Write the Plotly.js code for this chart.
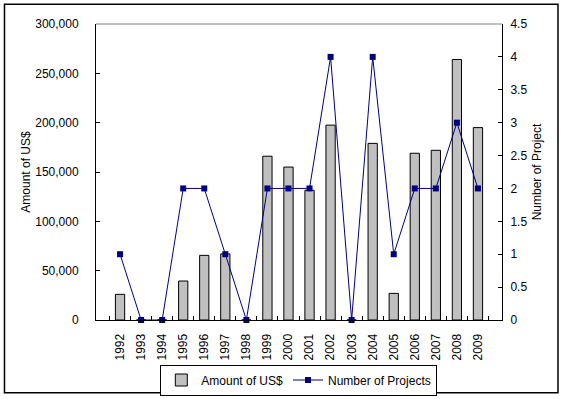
<!DOCTYPE html>
<html>
<head>
<meta charset="utf-8">
<script src="https://cdn.plot.ly/plotly-3.0.1.min.js"></script>
<style>
html,body{margin:0;padding:0;background:#fff;}
#chart{width:567px;height:399px;}
</style>
</head>
<body>
<div id="chart"></div>
<script>
var years = ['1992','1993','1994','1995','1996','1997','1998','1999','2000','2001','2002','2003','2004','2005','2006','2007','2008','2009'];
var amountUSD = [26000,0,0,39500,65500,67000,0,166000,155000,131500,197500,0,179000,27000,169000,172000,264000,195000];
var numProjects = [1,0,0,2,2,1,0,2,2,2,4,0,4,1,2,2,3,2];

var fontFam = '"Liberation Sans", Arial, sans-serif';

var traces = [
  {
    type: 'bar',
    name: 'Amount of US$',
    x: years,
    y: amountUSD,
    marker: {color: '#C0C0C0', line: {color: '#000000', width: 1}},
    yaxis: 'y'
  },
  {
    type: 'scatter',
    mode: 'lines+markers',
    name: 'Number of Projects',
    x: years,
    y: numProjects,
    yaxis: 'y2',
    line: {color: '#000080', width: 1},
    marker: {color: '#000080', size: 6, symbol: 'square'},
    cliponaxis: false
  }
];

var layout = {
  width: 567,
  height: 399,
  margin: {l: 96, r: 65, t: 24, b: 79, pad: 0},
  paper_bgcolor: '#ffffff',
  plot_bgcolor: '#ffffff',
  font: {family: fontFam, size: 12, color: '#000000'},
  bargap: 0.56,
  showlegend: true,
  legend: {
    orientation: 'h',
    xref: 'container', yref: 'container',
    x: 0.527, xanchor: 'center',
    y: 0.0476, yanchor: 'middle',
    bordercolor: '#000000', borderwidth: 1,
    font: {family: fontFam, size: 12, color: '#000000'},
    tracegroupgap: 0
  },
  xaxis: {
    type: 'category',
    tickangle: -90,
    showline: true, linecolor: '#000000', linewidth: 1,
    ticks: 'inside', tickson: 'boundaries', ticklen: 4, tickcolor: '#000000',
    ticklabelstandoff: 8,
    showgrid: false, zeroline: false,
    tickfont: {family: fontFam, size: 12, color: '#000000'},
    automargin: false
  },
  yaxis: {
    range: [0, 300000],
    dtick: 50000,
    tickformat: ',',
    showline: true, linecolor: '#000000', linewidth: 1,
    ticks: 'inside', ticklen: 4, tickcolor: '#000000',
    ticklabelstandoff: 14,
    showgrid: false, zeroline: false,
    tickfont: {family: fontFam, size: 12, color: '#000000'},
    title: {text: 'Amount of US$', font: {family: fontFam, size: 12, color: '#000000'}, standoff: 2},
    automargin: false
  },
  yaxis2: {
    range: [0, 4.5],
    dtick: 0.5,
    overlaying: 'y',
    side: 'right',
    showline: true, linecolor: '#000000', linewidth: 1,
    ticks: 'inside', ticklen: 4, tickcolor: '#000000',
    ticklabelstandoff: 5,
    showgrid: false, zeroline: false,
    tickfont: {family: fontFam, size: 12, color: '#000000'},
    title: {text: 'Number of Project', font: {family: fontFam, size: 12, color: '#000000'}, standoff: 6},
    automargin: false
  },
  shapes: [
    {type: 'line', xref: 'paper', yref: 'paper', x0: 0, x1: 1, y0: 1, y1: 1,
     line: {color: '#808080', width: 1}},
    {type: 'rect', xref: 'paper', yref: 'paper',
     x0: -0.2254, x1: 1.1379, y0: -0.2456, y1: 1.0666,
     line: {color: '#000000', width: 1.5}, fillcolor: 'rgba(0,0,0,0)'}
  ]
};

Plotly.newPlot('chart', traces, layout, {displayModeBar: false, staticPlot: true});
</script>
</body>
</html>
